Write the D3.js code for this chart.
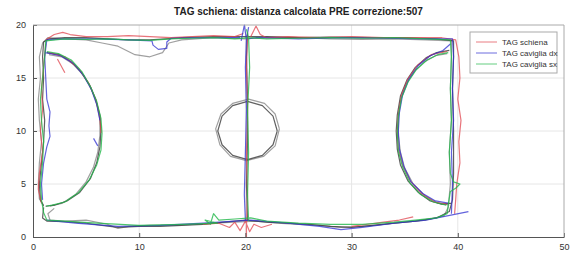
<!DOCTYPE html>
<html lang="it">
<head>
    <meta charset="UTF-8">
    <title>TAG schiena - percorso</title>
    <style>
        body {
            margin: 0;
            padding: 0;
            background: #fff;
            font-family: Arial, "Liberation Sans", sans-serif;
        }
        #chart svg {
            display: block;
        }
        .tick text {
            font-size: 9px;
            fill: #333;
        }
    </style>
</head>
<body>
    <div id="chart"></div>

    <script src="https://d3js.org/d3.v7.min.js"></script>
    <script>
        // Dati (metri). null = interruzione del tracciato

        const titolo = "TAG schiena: distanza calcolata PRE correzione:507";
        const xTicks = [0, 10, 20, 30, 40, 50];
        const yTicks = [0, 5, 10, 15, 20];
        const legendaNomi = ["TAG schiena", "TAG caviglia dx", "TAG caviglia sx"];

        // tracciato grigio chiaro
        const percorsoGrigio = [
            [2.0,2.7],[1.4,2.2],[1.6,1.6],[3,1.5],[5,1.6],[7,1.2],[8,0.8],[9,1.0],[11,1.1],[13,1.1],[15,1.2],[17,1.3],
            [19,1.4],[21,1.5],[23,1.3],[25,1.2],[27,1.1],[29,0.9],[31,1.0],[33,1.2],[35,1.4],[37,1.6],[38.7,2.0],[39.1,2.8],
            [39.3,5],[39.2,8],[39.4,11],[39.3,14],[39.4,17],[39.4,18.5],
            [37,18.6],[34,18.7],[31,18.65],[28,18.7],[25,18.8],[22,18.85],[20,18.7],[17,18.8],[14,18.6],[12.8,18.3],
            [12.2,17.4],[11,17.0],[9.6,17.2],[8.8,17.6],[8,18.0],[6.5,18.3],[5,18.6],[3,18.7],[1.4,18.8],[0.9,18.3],
            [0.6,17],[0.7,15],[0.5,13],[0.6,11],[0.8,9],[0.6,7],[0.5,5],[0.6,3.6],[1.0,3.0], null,
            [1.5,17.2],[2.7,17.0],[3.8,16.3],[4.7,15.3],[5.5,14.0],[6.0,12.6],[6.3,11.1],[6.3,9.6],[6.1,8.0],[5.7,6.6],
            [5.0,5.2],[4.0,4.0],[2.8,3.2],[1.6,2.9], null,
            [39.0,17.3],[37.9,17.1],[36.8,16.5],[35.9,15.6],[35.1,14.4],[34.6,12.9],[34.4,11.2],[34.4,9.6],[34.6,8.0],
            [35.0,6.5],[35.8,5.0],[36.9,3.9],[38.1,3.2],[39.2,3.0], null,
            [23.2,10.2],[22.8,11.6],[21.8,12.6],[20.3,13.0],[18.8,12.6],[17.7,11.6],[17.2,10.2],[17.6,8.7],[18.6,7.6],
            [20.1,7.2],[21.7,7.6],[22.8,8.6],[23.2,10.2]
        ];

        // tracciato scuro
        const percorsoScuro = [
            [1.0,2.8],[0.9,1.8],[1.3,1.5],[3,1.45],[5,1.3],[6.5,1.1],[8,0.9],[10,1.0],[12,1.0],[14,1.1],[16,1.2],[18,1.4],
            [20,1.6],[22,1.4],[24,1.3],[26,1.2],[28,1.0],[30,0.9],[32,1.1],[34,1.3],[36,1.5],[38,1.8],[39.2,2.4],[39.5,3.5],
            [39.6,6],[39.6,10],[39.5,14],[39.6,17],[39.6,18.5],
            [38,18.7],[35,18.8],[32,18.8],[28,18.85],[25,18.8],[22,18.9],[20,18.9],[17,18.9],[14,18.8],[12.5,18.7],
            [11,18.6],[9,18.6],[7,18.7],[5,18.8],[3,18.8],[1.5,18.7],[1.0,18.4],
            [0.9,17],[1.0,15],[0.9,13],[1.1,11],[1.0,9],[0.8,7],[0.6,5],[0.7,3.5],[1.0,2.9], null,
            [1.3,17.4],[2.5,17.2],[3.5,16.6],[4.5,15.6],[5.3,14.4],[5.9,13.0],[6.3,11.5],[6.4,10],[6.3,8.5],[6.0,7.0],
            [5.4,5.5],[4.4,4.2],[3.2,3.4],[2.0,3.0],[1.2,2.9], null,
            [39.2,17.6],[38,17.4],[37,16.9],[36,16],[35.2,14.8],[34.6,13.3],[34.3,11.5],[34.2,10],[34.3,8.3],[34.6,6.8],
            [35.3,5.3],[36.3,4.2],[37.4,3.4],[38.5,3.1],[39.4,3.2], null,
            [20.2,1.5],[20.1,5],[20.2,9],[20.2,13],[20.1,17],[20.2,19.2], null,
            [23.0,10.0],[22.6,11.4],[21.6,12.4],[20.2,12.8],[18.8,12.4],[17.8,11.4],[17.4,10.0],[17.8,8.7],[18.8,7.7],
            [20.2,7.3],[21.6,7.7],[22.6,8.7],[23.0,10.0]
        ];

        // TAG schiena
        const tagSchiena = [
            [1.2,18.6],[2,19.1],[2.8,19.3],[3.5,19.1],[5,18.9],[7,18.9],[9,19.0],[11,18.9],[13,18.8],[15,18.9],[17,19.0],
            [19,18.9],[19.8,19.2], null,
            [20.5,18.9],[21,19.9],[21.4,19.1],[22,18.8],[24,18.9],[27,18.8],[30,18.9],[33,18.8],[36,18.8],[38.5,18.8],
            [39.8,18.6],[40.1,17],[40.2,15],[40.0,13],[40.3,11],[40.1,9],[40.2,7],[39.9,5],[39.8,3.5],[39.7,2.2], null,
            [30,1.0],[31.5,1.2],[33,1.4],[34.5,1.6],[35.8,1.9], null,
            [16,1.2],[17.5,1.3],[18.5,0.9],[19,1.4],[19.5,0.6],[20,1.5],[20.4,0.5],[20.8,1.2],[21.5,0.9],[22.5,1.2], null,
            [20.1,0],[20.1,1],[20.2,4],[20.1,8],[20.2,12],[20.1,16],[20.2,19.3], null,
            [1.2,18.2],[1.0,16],[0.8,14],[0.9,12],[0.7,10],[0.9,8],[0.6,6],[0.5,4.5],[0.8,3.2], null,
            [1.5,17.4],[3,17],[4.3,15.9],[5.2,14.6],[5.9,13],[6.3,11.3],[6.4,9.8], null,
            [2.3,16.8],[3.0,15.5], null,
            [39,17.5],[37.5,17.2],[36.2,16.2],[35.3,14.9],[34.7,13.4],[34.4,11.6],[34.3,10],[34.4,8.4],[34.8,6.8],
            [35.5,5.3],[36.6,4.1],[37.8,3.3],[39,3.1]
        ];

        // TAG caviglia dx
        const tagCavigliaDx = [
            [1.3,1.6],[4,1.3],[8,1.0],[12,1.1],[16,1.3],[19,1.5],[20.5,1.6],[24,1.3],[27,1.0],[29,0.7],[31,0.9],[34,1.3],
            [37,1.6],[39,2.0],[41,2.4], null,
            [39.4,2.2],[39.5,5],[39.4,8],[39.6,11],[39.5,14],[39.6,17],[39.5,18.7],
            [37,18.7],[33,18.75],[29,18.8],[25,18.7],[21,18.8],[20.3,18.7], null,
            [19.6,18.5],[19.9,20.0],[20.1,18.6],[20.3,19.8], null,
            [19.5,18.8],[16,18.8],[13,18.75],[12.6,18.4],[12.6,17.8],[11.8,17.7],[11.3,18.1],[11.2,18.5],[9,18.6],
            [6,18.7],[3,18.7],[1.3,18.6],
            [1.1,17],[1.2,15],[1.3,13],[1.6,11.8],[1.5,10.5],[1.6,9.5],[1.3,8.5],[1.0,7],[0.8,5],[0.9,3.5], null,
            [20.0,1.6],[19.9,4],[20.0,8],[20.1,12],[20.0,16],[20.1,18.7], null,
            [1.2,17.4],[2.6,17.1],[3.8,16.4],[4.8,15.2],[5.5,13.9],[6.0,12.5],[6.3,11], null,
            [5.7,9.3],[6.1,8.6], null,
            [39.3,18.2],[38.6,17.6],[37.4,17.1],[36.3,16.2],[35.4,14.9],[34.8,13.4],[34.5,11.7],[34.4,10],[34.5,8.3],
            [34.9,6.7],[35.6,5.2],[36.7,4.1],[37.9,3.4],[39.1,3.2]
        ];

        // TAG caviglia sx
        const tagCavigliaSx = [
            [1.2,18.5],[3,18.7],[5,18.65],[7,18.7],[9,18.6],[11,18.55],[13,18.7],[15,18.75],[17,18.8],[19,18.7],
            [20.3,18.8],[22,18.7],[25,18.75],[28,18.8],[31,18.75],[34,18.8],[37,18.7],[39.3,18.6],
            [39.4,17],[39.3,14],[39.4,11],[39.2,8],[39.3,6],[39.6,5.2],[40.2,5.0],[39.8,4.6],[39.3,4.3],[39.1,3],[39,2.2],
            [38,1.8],[36,1.6],[34,1.4],[31,1.2],[28,1.2],[25,1.3],[22,1.5],[20.5,1.8],[19,1.7],[17.5,1.6],[17,2.2],
            [16.7,1.2],[16.2,1.6],[17.4,1.3],[14,1.2],[10,1.1],[6,1.3],[3,1.5],[1.3,1.6],[1.0,2.3],
            [0.8,3.5],[0.7,5],[0.9,7],[1.0,9],[0.8,11],[0.7,13],[0.9,15],[1.1,17],[1.2,18.5], null,
            [20.3,1.5],[20.2,4],[20.3,8],[20.2,12],[20.4,16],[20.3,18.8],[20.1,19.6], null,
            [1.3,17.5],[2.4,17.3],[3.6,16.7],[4.6,15.6],[5.4,14.2],[6.0,12.8],[6.4,11.2],[6.5,9.8],[6.4,8.2],[6.0,6.8],
            [5.3,5.4],[4.3,4.2],[3.0,3.3],[1.8,3.0],[1.2,2.9], null,
            [39.1,17.4],[38.1,17.2],[37.1,16.7],[36.1,15.8],[35.3,14.6],[34.7,13.1],[34.4,11.4],[34.3,9.8],[34.4,8.1],
            [34.8,6.6],[35.5,5.1],[36.5,4.0],[37.7,3.3],[38.9,3.0]
        ];

        // Dimensioni
        const width = 576, height = 255;
        const x = d3.scaleLinear().domain([0, 50]).range([33, 564]);
        const y = d3.scaleLinear().domain([0, 20]).range([237, 25]);

        const svg = d3.select("#chart").append("svg")
            .attr("width", width)
            .attr("height", height);

        // Griglia
        svg.append("g").selectAll("line")
            .data(xTicks.slice(1, -1))
            .join("line")
            .attr("x1", d => x(d)).attr("x2", d => x(d))
            .attr("y1", y(0)).attr("y2", y(20))
            .attr("stroke", "#e6e6e6");
        svg.append("g").selectAll("line")
            .data(yTicks.slice(1, -1))
            .join("line")
            .attr("x1", x(0)).attr("x2", x(50))
            .attr("y1", d => y(d)).attr("y2", d => y(d))
            .attr("stroke", "#e6e6e6");

        // Tracciati
        const line = d3.line()
            .defined(d => d !== null)
            .x(d => x(d[0]))
            .y(d => y(d[1]));

        const serie = [
            { dati: percorsoGrigio, colore: "#8f8f8f", opacita: 0.85 },
            { dati: percorsoScuro, colore: "#3a3a3a", opacita: 0.8 },
            { dati: tagSchiena, colore: "#e0454f", opacita: 0.75 },
            { dati: tagCavigliaDx, colore: "#2f2fd0", opacita: 0.75 },
            { dati: tagCavigliaSx, colore: "#22b84a", opacita: 0.8 }
        ];

        svg.append("g").selectAll("path")
            .data(serie)
            .join("path")
            .attr("d", d => line(d.dati))
            .attr("fill", "none")
            .attr("stroke", d => d.colore)
            .attr("stroke-opacity", d => d.opacita)
            .attr("stroke-width", 1.2)
            .attr("stroke-linejoin", "round");

        // Assi
        const xAxis = svg.append("g")
            .attr("transform", `translate(0,${y(0)})`)
            .call(d3.axisBottom(x).tickValues(xTicks).tickSizeInner(-4).tickSizeOuter(0).tickPadding(7));
        const yAxis = svg.append("g")
            .attr("transform", `translate(${x(0)},0)`)
            .call(d3.axisLeft(y).tickValues(yTicks).tickSizeInner(-4).tickSizeOuter(0).tickPadding(7));
        [xAxis, yAxis].forEach(a => {
            a.select(".domain").attr("stroke", "#555");
            a.selectAll(".tick line").attr("stroke", "#555");
            a.selectAll(".tick text").attr("font-family", "Arial, 'Liberation Sans', sans-serif");
        });

        // bordo superiore e destro
        svg.append("path")
            .attr("d", `M${x(0)},${y(20)}H${x(50)}V${y(0)}`)
            .attr("fill", "none")
            .attr("stroke", "#aaa");

        // Titolo
        svg.append("text")
            .attr("x", (x(0) + x(50)) / 2)
            .attr("y", 15)
            .attr("text-anchor", "middle")
            .attr("font-size", "10px")
            .attr("font-weight", "bold")
            .attr("fill", "#222")
            .text(titolo);

        // Legenda
        const legenda = svg.append("g").attr("transform", "translate(470,32)");
        legenda.append("rect")
            .attr("width", 87).attr("height", 41)
            .attr("fill", "#fff")
            .attr("stroke", "#aaa");
        const voci = legenda.selectAll("g.voce")
            .data(legendaNomi)
            .join("g")
            .attr("class", "voce")
            .attr("transform", (d, i) => `translate(0,${10 + i * 11})`);
        voci.append("line")
            .attr("x1", 6).attr("x2", 27)
            .attr("stroke", (d, i) => serie[i + 2].colore)
            .attr("stroke-opacity", 0.7);
        voci.append("text")
            .attr("x", 32).attr("dy", "0.33em")
            .attr("font-size", "8px")
            .attr("fill", "#333")
            .text(d => d);
    </script>
</body>
</html>
